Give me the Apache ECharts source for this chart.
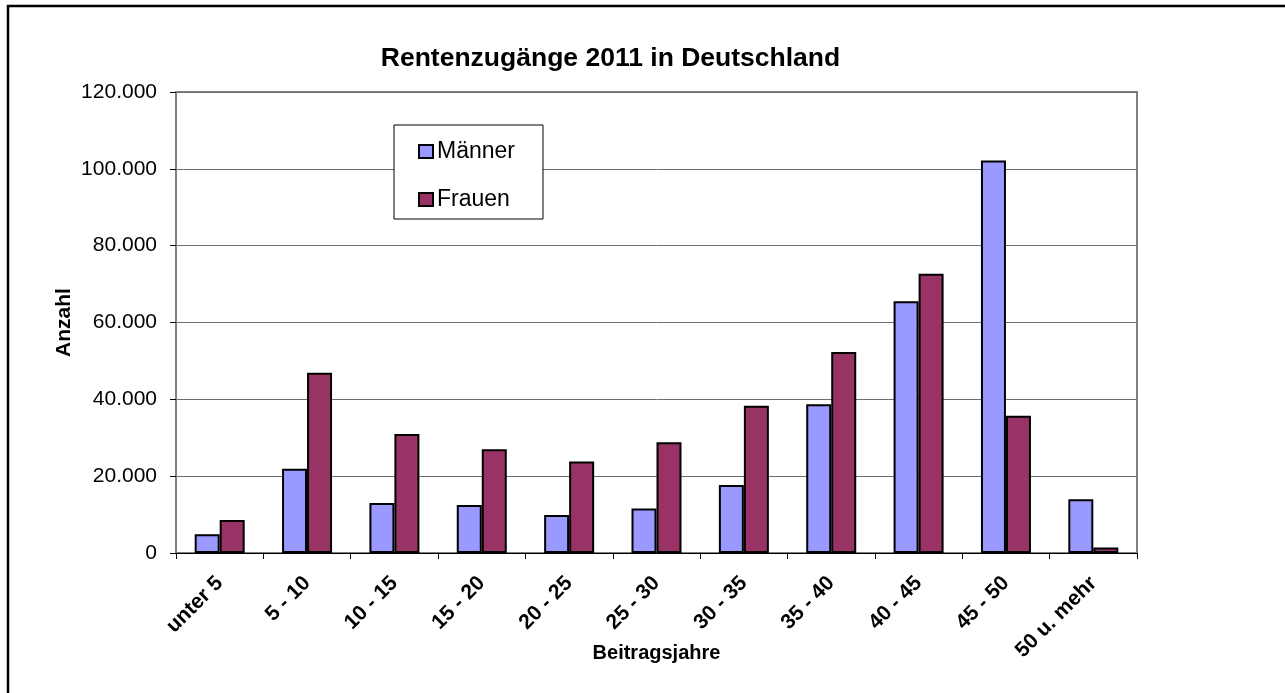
<!DOCTYPE html>
<html>
<head>
<meta charset="utf-8">
<script src="https://cdn.jsdelivr.net/npm/echarts@6/dist/echarts.min.js"></script>
<style>html,body{margin:0;padding:0;background:#fff;}#c{width:1285px;height:693px;}</style>
</head>
<body>
<div id="c"></div>
<script>
const categories = ['unter 5','5 - 10','10 - 15','15 - 20','20 - 25','25 - 30','30 - 35','35 - 40','40 - 45','45 - 50','50 u. mehr'];
const maenner = [4900, 21900, 13000, 12500, 9900, 11600, 17700, 38700, 65500, 102200, 14000];
const frauen  = [8600, 46900, 31000, 27000, 23850, 28800, 38300, 52300, 72700, 35700, 1450];
const seriesNames = ['Männer', 'Frauen'];
const titleText = 'Rentenzugänge 2011 in Deutschland';
const xName = 'Beitragsjahre';
const yName = 'Anzahl';

const FONT = '"Liberation Sans", Arial, sans-serif';
const chart = echarts.init(document.getElementById('c'), null, {renderer: 'canvas'});

function fmt(v) {
  return String(v).replace(/\B(?=(\d{3})+(?!\d))/g, '.');
}

chart.setOption({
  animation: false,
  backgroundColor: '#fff',
  textStyle: {fontFamily: FONT},
  title: {
    text: titleText,
    left: 605.5, top: 40, textAlign: 'center',
    textStyle: {fontFamily: FONT, fontSize: 26.5, fontWeight: 'bold', color: '#000'}
  },
  graphic: [{
    type: 'rect', silent: true,
    shape: {x: 8, y: 6, width: 1300, height: 720},
    style: {fill: 'none', stroke: '#000', lineWidth: 2.5}
  }],
  legend: {
    data: seriesNames,
    orient: 'vertical',
    left: 394, top: 125,
    backgroundColor: '#fff',
    borderColor: '#000', borderWidth: 1,
    padding: [15, 28, 8, 24],
    itemGap: 25,
    itemWidth: 14, itemHeight: 13,
    icon: 'rect',
    textStyle: {fontFamily: FONT, fontSize: 23, color: '#000', padding: [0, 0, 0, -1]}
  },
  grid: {
    left: 176, right: 148, top: 92, bottom: 140,
    show: true, borderColor: '#808080', borderWidth: 2, backgroundColor: '#fff'
  },
  xAxis: {
    type: 'category',
    data: categories,
    name: xName,
    nameLocation: 'middle',
    nameGap: 90,
    nameMoveOverlap: false,
    nameTextStyle: {fontFamily: FONT, fontSize: 20, fontWeight: 'bold', color: '#000'},
    axisLine: {lineStyle: {color: '#000', width: 1}},
    axisTick: {show: true, length: 6, lineStyle: {color: '#000'}},
    axisLabel: {
      rotate: 45, interval: 0, margin: 27,
      fontFamily: FONT, fontSize: 21, fontWeight: 'bold', color: '#000'
    },
    splitLine: {show: false}
  },
  yAxis: {
    type: 'value',
    min: 0, max: 120000, interval: 20000,
    name: yName,
    nameLocation: 'middle',
    nameRotate: 90,
    nameGap: 101,
    nameMoveOverlap: false,
    nameTextStyle: {fontFamily: FONT, fontSize: 21, fontWeight: 'bold', color: '#000'},
    axisLine: {show: true, lineStyle: {color: '#808080', width: 1.5}},
    axisTick: {show: true, length: 6, lineStyle: {color: '#000'}},
    axisLabel: {
      margin: 19, formatter: fmt,
      fontFamily: FONT, fontSize: 21, color: '#000'
    },
    splitLine: {show: true, lineStyle: {color: '#6e6e6e', width: 1}}
  },
  series: [
    {
      name: seriesNames[0], type: 'bar', data: maenner,
      barWidth: 25, barGap: '0%',
      itemStyle: {color: '#9999FF', borderColor: '#000', borderWidth: 2}
    },
    {
      name: seriesNames[1], type: 'bar', data: frauen,
      barWidth: 25, barGap: '0%',
      itemStyle: {color: '#993366', borderColor: '#000', borderWidth: 2}
    }
  ]
});
</script>
</body>
</html>
